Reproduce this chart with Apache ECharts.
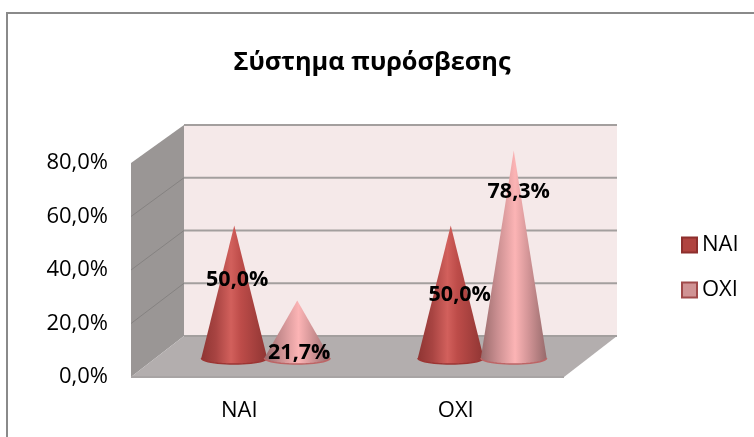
<!DOCTYPE html>
<html>
<head>
<meta charset="utf-8">
<style>html,body{margin:0;padding:0;background:#fff}#c{width:754px;height:437px}</style>
<script src="https://cdn.jsdelivr.net/npm/echarts@6/dist/echarts.min.js"></script>
</head>
<body>
<div id="c"></div>
<script>
const titleText = 'Σύστημα πυρόσβεσης';
const categories = ['NAI', 'OXI'];
const seriesNames = ['NAI', 'OXI'];
const naiValues = [50.0, 50.0];
const oxiValues = [21.7, 78.3];
const yMax = 80;
const yStep = 20;
const gridLevels = [0, 20, 40, 60, 80];

const FONT = '"Open Sans", sans-serif';
const fmt = v => v.toFixed(1).replace('.', ',') + '%';

// Oblique depth of the fake 3D box
const depthX = 53;
const depthY = v => 41 - 3 * v / yMax;
function project(api, x, v, d) {
  const p = api.coord([x, v]);
  return [p[0] + d * depthX, p[1] - d * depthY(v)];
}

// Excel's hand-placed label nudges relative to each cone apex: [series][category] = [dx, dy]
const labelNudge = [[[3, 54], [9, 69]], [[2, 52], [5, 41]]];
const coneOffset = 0.1455;
const coneHalfWidth = 0.152;
const coneRim = 6;

const coneGradients = [
  [[0, '#8f3533'], [0.22, '#a84442'], [0.45, '#d2605c'], [0.6, '#bd4c49'], [1, '#8f3533']],
  [[0, '#97696a'], [0.24, '#c88d8f'], [0.52, '#fcb4b5'], [0.74, '#cf9294'], [1, '#966a6b']]
];
const rimColors = ['#9c3533', '#bd6465'];

function wallsItem(params, api) {
  const poly = (pts, fill) => ({ type: 'polygon', shape: { points: pts }, style: { fill: fill } });
  const a = (x, v, d) => project(api, x, v, d);
  return {
    type: 'group',
    children: [
      poly([a(0, 0, 1), a(0, yMax, 1), a(2, yMax, 1), a(2, 0, 1)], '#f5e9e9'),
      poly([a(0, 0, 0), a(0, yMax, 0), a(0, yMax, 1), a(0, 0, 1)], '#9a9695'),
      poly([a(0, 0, 0), a(0, 0, 1), a(2, 0, 1), a(2, 0, 0)], '#b3aeae')
    ]
  };
}

function gridItem(params, api) {
  const v = api.value(0);
  const line = (p, q, c, w) => ({ type: 'line', shape: { x1: p[0], y1: p[1], x2: q[0], y2: q[1] }, style: { stroke: c, lineWidth: w } });
  const children = [line(project(api, 0, v, 1), project(api, 2, v, 1), '#a39f9e', 2)];
  if (v > 0 && v < yMax) children.push(line(project(api, 0, v, 0), project(api, 0, v, 1), '#858281', 1));
  if (v === 0) children.push(line(project(api, 0, v, 0), project(api, 2, v, 0), '#a8a4a4', 2));
  return { type: 'group', children: children };
}

function coneItem(sIdx) {
  return function (params, api) {
    const cat = api.value(0), val = api.value(1);
    const band = api.size([1, 0])[0];
    const base = api.coord([cat, 0]);
    const top = api.coord([cat, val]);
    const sign = sIdx === 0 ? -1 : 1;
    const cx = base[0] + sign * coneOffset * band;
    const a = coneHalfWidth * band;
    const arc = [];
    for (let i = 0; i <= 24; i++) {
      const t = Math.PI * i / 24;
      arc.push([cx + a * Math.cos(t), base[1] + coneRim * Math.sin(t)]);
    }
    const stops = coneGradients[sIdx].map(s => ({ offset: s[0], color: s[1] }));
    return {
      type: 'group',
      children: [
        { type: 'polygon', shape: { points: [[cx, top[1]]].concat(arc) },
          style: { fill: { type: 'linear', x: 0, y: 0, x2: 1, y2: 0, colorStops: stops } } },
        { type: 'polyline', shape: { points: arc }, style: { stroke: rimColors[sIdx], lineWidth: 1.5, fill: null } }
      ]
    };
  };
}

function labelItem(params, api) {
  const cat = api.value(0), val = api.value(1), s = api.value(2);
  const band = api.size([1, 0])[0];
  const top = api.coord([cat, val]);
  const sign = s === 0 ? -1 : 1;
  const n = labelNudge[s][cat];
  return {
    type: 'text',
    style: {
      x: top[0] + sign * coneOffset * band + n[0],
      y: top[1] + n[1],
      text: fmt(val),
      fill: '#000',
      font: 'bold 21.5px ' + FONT,
      align: 'center',
      verticalAlign: 'middle'
    }
  };
}

const labelData = [];
[naiValues, oxiValues].forEach((vals, s) => vals.forEach((v, c) => labelData.push([c, v, s])));

const chart = echarts.init(document.getElementById('c'), null, { renderer: 'canvas' });
chart.setOption({
  animation: false,
  backgroundColor: '#ffffff',
  title: {
    text: titleText, left: 367, top: 45, textAlign: 'center',
    textStyle: { fontFamily: FONT, fontSize: 25.3, fontWeight: 'bold', color: '#000' }
  },
  legend: {
    data: seriesNames, orient: 'vertical', left: 676, top: 229,
    itemWidth: 15, itemHeight: 15, itemGap: 23, icon: 'rect',
    textStyle: { fontFamily: FONT, fontSize: 22, color: '#000' },
    selectedMode: false
  },
  graphic: [
    { type: 'line', shape: { x1: 6, y1: 13, x2: 754, y2: 13 }, style: { stroke: '#8a8a8a', lineWidth: 2 }, silent: true },
    { type: 'line', shape: { x1: 7, y1: 13, x2: 7, y2: 437 }, style: { stroke: '#8a8a8a', lineWidth: 2 }, silent: true }
  ],
  grid: [
    { left: 131, right: 190, top: 163, bottom: 60 },
    { left: 157.5, right: 163.5, top: 146, bottom: 79 }
  ],
  xAxis: [
    { type: 'category', gridIndex: 0, data: categories, axisLine: { show: false }, axisTick: { show: false },
      axisLabel: { fontFamily: FONT, fontSize: 22, color: '#000', margin: 23 } },
    { type: 'value', gridIndex: 0, min: 0, max: 2, show: false },
    { type: 'category', gridIndex: 1, data: categories, show: false }
  ],
  yAxis: [
    { type: 'value', gridIndex: 0, min: 0, max: yMax, interval: yStep,
      axisLine: { show: false }, axisTick: { show: false }, splitLine: { show: false },
      axisLabel: { fontFamily: FONT, fontSize: 22, color: '#000', margin: 23, padding: [4, 0, 0, 0], formatter: fmt } },
    { type: 'value', gridIndex: 1, min: 0, max: yMax, show: false }
  ],
  series: [
    { type: 'custom', name: 'walls', xAxisIndex: 1, yAxisIndex: 0, z: 1, clip: false, silent: true,
      data: [[0]], encode: { x: -1, y: -1 }, renderItem: wallsItem },
    { type: 'custom', name: 'gridlines', xAxisIndex: 1, yAxisIndex: 0, z: 2, clip: false, silent: true,
      data: gridLevels.map(v => [v]), encode: { x: -1, y: -1 }, renderItem: gridItem },
    { type: 'custom', name: seriesNames[0], xAxisIndex: 2, yAxisIndex: 1, z: 3, clip: false,
      itemStyle: { color: '#b0433f', borderColor: '#8d2f2d', borderWidth: 1.5 },
      data: naiValues.map((v, i) => [i, v]), encode: { x: 0, y: 1 }, renderItem: coneItem(0) },
    { type: 'custom', name: seriesNames[1], xAxisIndex: 2, yAxisIndex: 1, z: 4, clip: false,
      itemStyle: { color: '#d09394', borderColor: '#a04a4a', borderWidth: 1.5 },
      data: oxiValues.map((v, i) => [i, v]), encode: { x: 0, y: 1 }, renderItem: coneItem(1) },
    { type: 'custom', name: 'labels', xAxisIndex: 2, yAxisIndex: 1, z: 5, clip: false, silent: true,
      data: labelData, encode: { x: 0, y: 1 }, renderItem: labelItem }
  ]
});
</script>
</body>
</html>
